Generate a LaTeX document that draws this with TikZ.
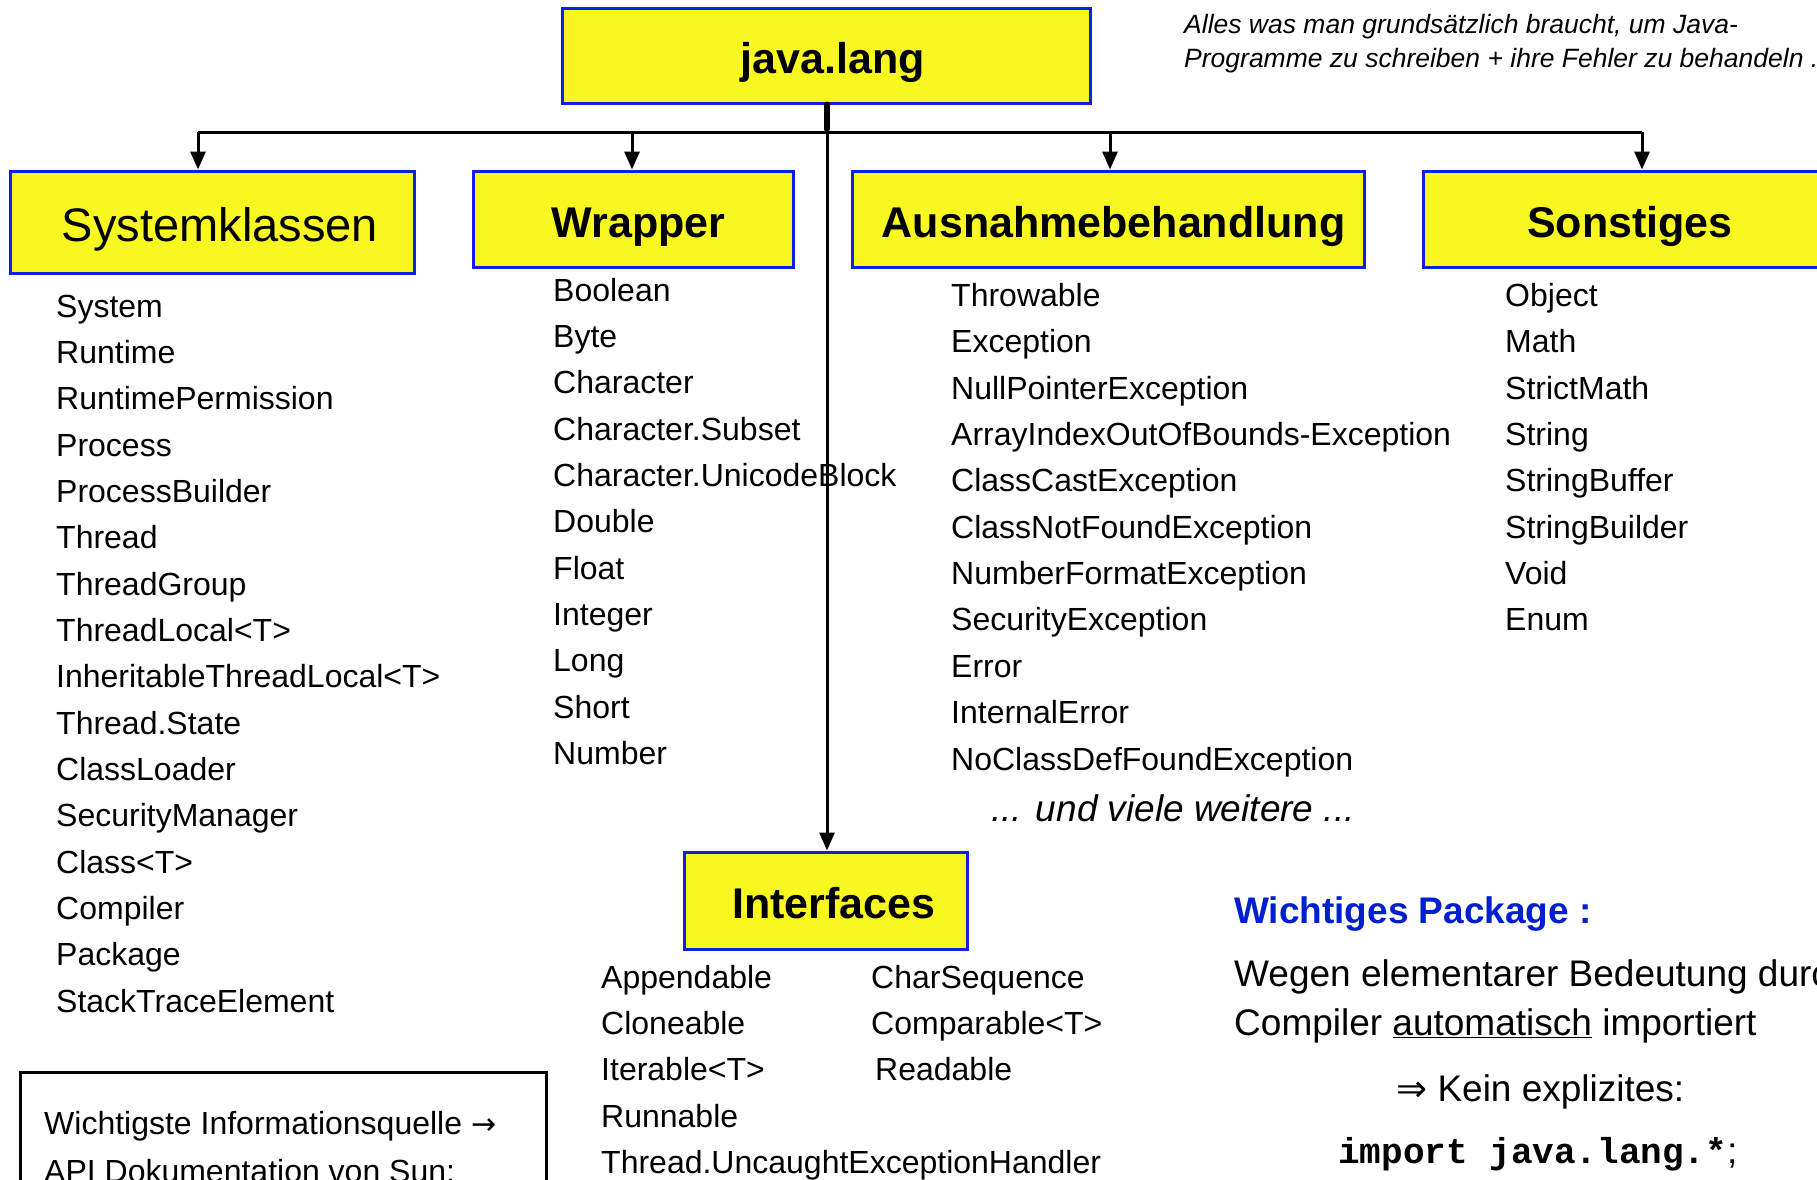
\documentclass[tikz,border=0pt]{standalone}
\usepackage{fontspec}
\setmainfont{Liberation Sans}
\setmonofont{Liberation Mono}
\newfontfamily\symfont{DejaVu Sans}
\usetikzlibrary{arrows.meta}
\definecolor{boxfill}{RGB}{248,248,32}
\definecolor{boxline}{RGB}{16,32,224}
\definecolor{headblue}{RGB}{0,32,208}
\begin{document}
\begin{tikzpicture}[x=1pt,y=-1pt,
  pkg/.style={draw=boxline, line width=3pt, fill=boxfill, inner sep=0pt,
    text height=36pt, text depth=0pt,
    font=\fontsize{43}{50}\selectfont\bfseries},
  shifted/.style={execute at begin node={\hspace*{#1}}},
  item/.style={anchor=base west, inner sep=0pt, font=\fontsize{32}{36}\selectfont},
  big/.style={anchor=base west, inner sep=0pt, font=\fontsize{37}{42}\selectfont},
  conn/.style={line width=3pt},
  arr/.style={conn, -{Triangle[length=18pt,width=15pt]}}]
\useasboundingbox (0,0) rectangle (1817,1179);
\fill[white] (0,0) rectangle (1817,1179);

% package boxes
\node[pkg, shifted=14pt, minimum width=528pt, minimum height=95pt] (java) at (826,55.5) {java.lang};
\node[pkg, shifted=16pt, minimum width=404pt, minimum height=102pt, text height=38pt, font=\fontsize{47}{54}\selectfont\mdseries] (sys) at (212,222) {Systemklassen};
\node[pkg, shifted=11pt, minimum width=320pt, minimum height=96pt] (wrap) at (633,219) {Wrapper};
\node[pkg, shifted=11pt, minimum width=512pt, minimum height=96pt] (aus) at (1108,219) {Ausnahmebehandlung};
\node[pkg, minimum width=414pt, minimum height=96pt] (son) at (1630,219) {Sonstiges};
\node[pkg, shifted=16pt, minimum width=283pt, minimum height=97pt] (intf) at (826,900.5) {Interfaces};

% connectors
\coordinate (junc) at (827,132);
\coordinate (b1) at (198,132);
\coordinate (b2) at (632,132);
\coordinate (b3) at (1110,132);
\coordinate (b4) at (1642,132);
\draw[conn] (b1) -- (b4);
\draw[line width=6pt, line cap=round] (java.south -| junc) -- ([yshift=3pt]junc);
\draw[arr] (b1) -- (b1 |- sys.north);
\draw[arr] (b2) -- (b2 |- wrap.north);
\draw[arr] (b3) -- (b3 |- aus.north);
\draw[arr] (b4) -- (b4 |- son.north);
\draw[arr] (junc) -- (junc |- intf.north);

% lists
\foreach \t [count=\i from 0] in {System, Runtime, RuntimePermission, Process, ProcessBuilder, Thread, ThreadGroup, ThreadLocal<T>, InheritableThreadLocal<T>, Thread.State, ClassLoader, SecurityManager, Class<T>, Compiler, Package, StackTraceElement}
  \node[item] (sys\i) at (56,{317+\i*46.35}) {\t};
\foreach \t [count=\i from 0] in {Boolean, Byte, Character, Character.Subset, Character.UnicodeBlock, Double, Float, Integer, Long, Short, Number}
  \node[item] (wr\i) at (553,{301+\i*46.35}) {\t};
\foreach \t [count=\i from 0] in {Throwable, Exception, NullPointerException, ArrayIndexOutOfBounds-Exception, ClassCastException, ClassNotFoundException, NumberFormatException, SecurityException, Error, InternalError, NoClassDefFoundException}
  \node[item] (au\i) at (951,{306.5+\i*46.35}) {\t};
\foreach \t [count=\i from 0] in {Object, Math, StrictMath, String, StringBuffer, StringBuilder, Void, Enum}
  \node[item] (so\i) at (1505,{306.5+\i*46.35}) {\t};
\foreach \t [count=\i from 0] in {Appendable, Cloneable, Iterable<T>, Runnable, Thread.UncaughtExceptionHandler}
  \node[item] (il\i) at (601,{988+\i*46.35}) {\t};
\node[item] (ir0) at (871,988) {CharSequence};
\node[item] (ir1) at (871,1034.35) {Comparable<T>};
\node[item] (ir2) at (875,1080.7) {Readable};

\node[anchor=base, inner sep=0pt, font=\fontsize{37}{42}\selectfont\itshape] (more) at (1173,821) {... und viele weitere ...};

% top note
\node[anchor=base west, inner sep=0pt, font=\fontsize{26.5}{32}\selectfont\itshape] (note1) at (1184,33) {Alles was man grundsätzlich braucht, um Java-};
\node[anchor=base west, inner sep=0pt, font=\fontsize{26.5}{32}\selectfont\itshape] (note2) at (1184,67) {Programme zu schreiben + ihre Fehler zu behandeln .};

% right text
\node[big, font=\fontsize{37}{42}\selectfont\bfseries, text=headblue] (wp) at (1234,923) {Wichtiges Package :};
\node[big] (weg1) at (1234,986) {Wegen elementarer Bedeutung durch den};
\node[big] (weg2) at (1234,1035) {Compiler \underline{automatisch} importiert};
\node[big] (kein) at (1396,1101) {{\symfont ⇒} Kein explizites:};
\node[big] (imp) at (1338,1163) {{\fontsize{36}{42}\selectfont\ttfamily\bfseries import java.lang.*};};

% info box
\draw[line width=3pt] (20,1200) -- (20,1072) -- (546,1072) -- (546,1200);
\node[item] (info1) at (44,1134) {Wichtigste Informationsquelle {\symfont\fontsize{30}{36}\selectfont →}};
\node[item] (info2) at (44,1182) {API Dokumentation von Sun:};
\end{tikzpicture}
\end{document}
